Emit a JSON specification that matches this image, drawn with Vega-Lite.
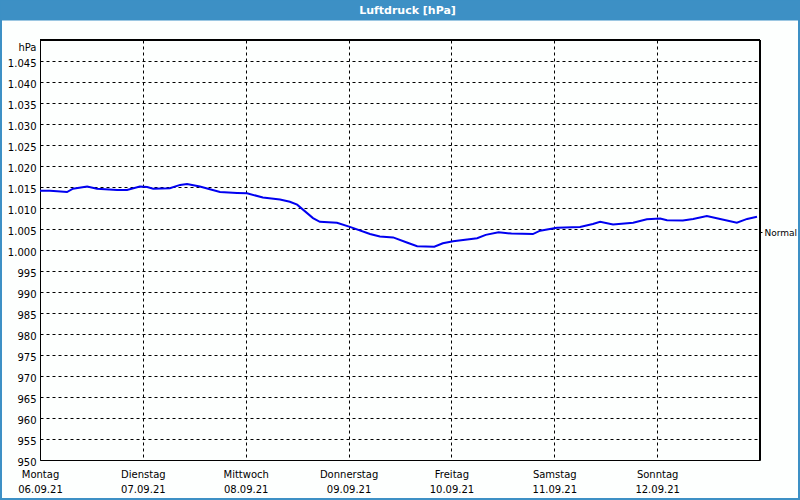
{
  "$schema": "https://vega.github.io/schema/vega-lite/v6.json",
  "autosize": "none",
  "padding": {"left": 40, "top": 40, "right": 40, "bottom": 40},
  "width": 720,
  "height": 420,
  "background": "#3d90c5",
  "data": {"values": [
    {"hour": 0, "hPa": 1014.1}, {"hour": 2.3, "hPa": 1014.1}, {"hour": 4, "hPa": 1014.0},
    {"hour": 6.3, "hPa": 1013.8}, {"hour": 7.7, "hPa": 1014.6}, {"hour": 11, "hPa": 1015.1},
    {"hour": 13.3, "hPa": 1014.6}, {"hour": 18, "hPa": 1014.3}, {"hour": 20.3, "hPa": 1014.3},
    {"hour": 23.3, "hPa": 1015.1}, {"hour": 25, "hPa": 1015.0}, {"hour": 26.4, "hPa": 1014.6},
    {"hour": 30.3, "hPa": 1014.7}, {"hour": 32.7, "hPa": 1015.5}, {"hour": 34.3, "hPa": 1015.7},
    {"hour": 37.3, "hPa": 1015.1}, {"hour": 42, "hPa": 1013.8}, {"hour": 46, "hPa": 1013.6},
    {"hour": 48.3, "hPa": 1013.5}, {"hour": 52, "hPa": 1012.5}, {"hour": 56, "hPa": 1012.0},
    {"hour": 58.3, "hPa": 1011.5}, {"hour": 60, "hPa": 1010.8}, {"hour": 63.7, "hPa": 1007.6},
    {"hour": 65.3, "hPa": 1006.7}, {"hour": 69.3, "hPa": 1006.5}, {"hour": 72.3, "hPa": 1005.5},
    {"hour": 77, "hPa": 1003.8}, {"hour": 79.3, "hPa": 1003.2}, {"hour": 82.4, "hPa": 1003.0},
    {"hour": 85.6, "hPa": 1001.8}, {"hour": 88, "hPa": 1000.9}, {"hour": 92, "hPa": 1000.8},
    {"hour": 94, "hPa": 1001.6}, {"hour": 96.4, "hPa": 1002.1}, {"hour": 102, "hPa": 1002.8},
    {"hour": 104, "hPa": 1003.6}, {"hour": 107, "hPa": 1004.2}, {"hour": 110, "hPa": 1003.9},
    {"hour": 115, "hPa": 1003.8}, {"hour": 116.7, "hPa": 1004.6}, {"hour": 120.6, "hPa": 1005.3},
    {"hour": 126, "hPa": 1005.5}, {"hour": 129, "hPa": 1006.2}, {"hour": 130.7, "hPa": 1006.7},
    {"hour": 133.7, "hPa": 1006.1}, {"hour": 138.4, "hPa": 1006.5}, {"hour": 141.6, "hPa": 1007.3},
    {"hour": 144.7, "hPa": 1007.5}, {"hour": 146.3, "hPa": 1007.1}, {"hour": 150, "hPa": 1007.0},
    {"hour": 152.4, "hPa": 1007.4}, {"hour": 155.6, "hPa": 1008.1}, {"hour": 158.7, "hPa": 1007.4},
    {"hour": 162.6, "hPa": 1006.5}, {"hour": 165, "hPa": 1007.4}, {"hour": 167.3, "hPa": 1007.9}
  ]},
  "layer": [
    {
      "mark": {"type": "line", "color": "#0000f0", "strokeWidth": 2, "clip": true},
      "encoding": {
        "x": {
          "field": "hour", "type": "quantitative",
          "scale": {"domain": [0, 168], "nice": false, "zero": false},
          "axis": {
            "orient": "bottom", "title": null,
            "values": [0, 24, 48, 72, 96, 120, 144],
            "labelExpr": "[['Montag','Dienstag','Mittwoch','Donnerstag','Freitag','Samstag','Sonntag'][datum.value/24], ['06.09.21','07.09.21','08.09.21','09.09.21','10.09.21','11.09.21','12.09.21'][datum.value/24]]",
            "labelAlign": "center", "labelBaseline": "top", "labelPadding": 9, "labelLineHeight": 15,
            "ticks": false, "grid": true, "gridDash": [3, 3], "domain": true, "labelFlush": false, "labelOverlap": false
          }
        },
        "y": {
          "field": "hPa", "type": "quantitative",
          "scale": {"domain": [950, 1050], "nice": false, "zero": false},
          "axis": {
            "orient": "left", "title": null,
            "values": [950, 955, 960, 965, 970, 975, 980, 985, 990, 995, 1000, 1005, 1010, 1015, 1020, 1025, 1030, 1035, 1040, 1045, 1050],
            "labelExpr": "datum.value == 1050 ? 'hPa' : (datum.value >= 1000 ? '1.' + format(datum.value - 1000, '03d') : format(datum.value, 'd'))",
            "ticks": false, "labelPadding": 4, "labelOffset": 2,
            "labelBaseline": {"condition": {"test": "datum.value == 1050", "value": "top"}, "value": "middle"},
            "grid": true, "gridDash": [3, 3], "domain": true, "labelOverlap": false, "labelFlush": false
          }
        }
      }
    },
    {
      "mark": {"type": "rule", "color": "#000000", "strokeWidth": 1},
      "encoding": {
        "x": {
          "datum": 168, "type": "quantitative",
          "scale": {"domain": [0, 168], "nice": false, "zero": false},
          "axis": {
            "orient": "top", "values": [84], "offset": 20,
            "tickSize": 20, "tickWidth": 800, "tickColor": "#3d90c5", "tickCap": "butt",
            "domain": false, "labels": false, "grid": false,
            "title": "Luftdruck [hPa]", "titleColor": "#ffffff", "titleFont": "DejaVu Sans",
            "titleFontSize": 11, "titleFontWeight": "bold", "titleX": 367, "titleY": -10,
            "titleBaseline": "middle", "titleAlign": "center", "titleAnchor": null
          }
        }
      }
    },
    {
      "mark": {"type": "rule", "color": "#000000", "strokeWidth": 1},
      "encoding": {
        "y": {
          "datum": 1050, "type": "quantitative",
          "scale": {"domain": [950, 1050], "nice": false, "zero": false},
          "axis": {
            "orient": "right", "values": [1004.4], "labelExpr": "'Normal'",
            "tickSize": 2, "tickColor": "#000000", "labelPadding": 2, "labelOffset": 1,
            "labelFontSize": 9,
            "domain": true, "grid": false, "title": null
          }
        }
      }
    }
  ],
  "resolve": {"scale": {"x": "independent", "y": "independent"}},
  "config": {
    "view": {"fill": "#fdfffe", "stroke": "#fdfffe", "strokeWidth": 76},
    "axis": {
      "labelFont": "DejaVu Sans", "labelFontSize": 10, "labelColor": "#000000",
      "domainColor": "#000000", "domainWidth": 1,
      "gridColor": "#000000", "gridOpacity": 1, "gridWidth": 1
    }
  }
}
